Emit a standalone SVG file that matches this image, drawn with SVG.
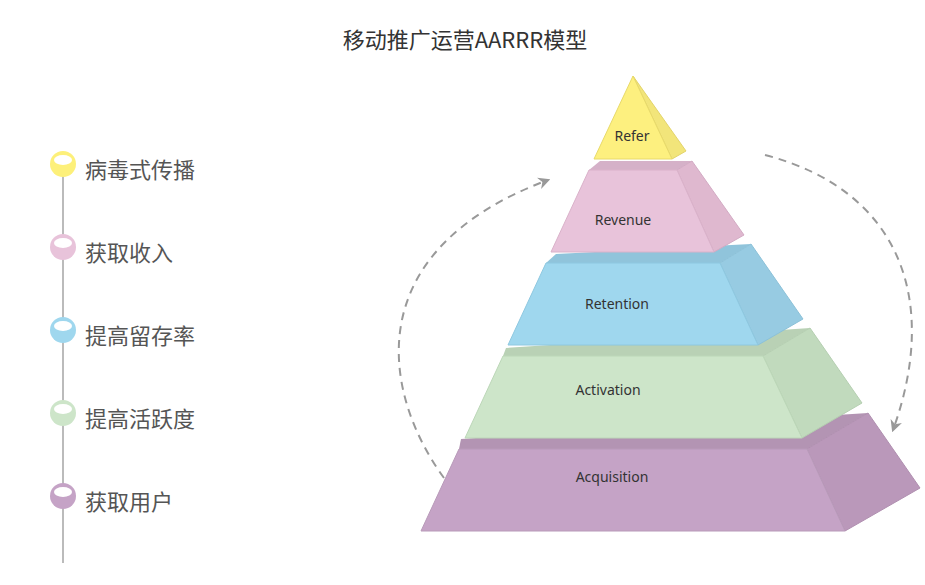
<svg xmlns="http://www.w3.org/2000/svg" width="925" height="585" viewBox="0 0 925 585">
<defs>
<style>
.t{font-family:"Microsoft YaHei","Noto Sans CJK SC","Liberation Sans",sans-serif;fill:#333}
.lbl{font-family:"Noto Sans","Liberation Sans",sans-serif;font-size:14px;fill:#333;text-anchor:middle}
.lt{font-family:"Noto Sans CJK SC",sans-serif;font-size:22px;fill:#555}
.dash{fill:none;stroke:#999;stroke-width:2;stroke-dasharray:8 6}
.hole{fill:#fff}
</style>
<marker id="ah" viewBox="0 0 10 10" refX="8" refY="5" markerWidth="6" markerHeight="6" orient="auto"><path d="M0,0 L10,5 L0,10 L3,5 Z" fill="#999"/></marker>
</defs>
<rect width="925" height="585" fill="#fff"/>
<text class="t" x="465" y="48" font-size="22" text-anchor="middle">移动推广运营AARRR模型</text>
<g id="timeline">
<line x1="63" y1="165" x2="63" y2="563" stroke="#bbb" stroke-width="2"/>
<g id="t1"><circle cx="63" cy="164" r="13" fill="#fdf07a"/><ellipse class="hole" cx="63" cy="160" rx="9" ry="5"/><text class="lt" x="85" y="178">病毒式传播</text></g>
<g id="t2"><circle cx="63" cy="247" r="13" fill="#e8c3da"/><ellipse class="hole" cx="63" cy="243" rx="9" ry="5"/><text class="lt" x="85" y="261">获取收入</text></g>
<g id="t3"><circle cx="63" cy="330" r="13" fill="#9fd7ee"/><ellipse class="hole" cx="63" cy="326" rx="9" ry="5"/><text class="lt" x="85" y="344">提高留存率</text></g>
<g id="t4"><circle cx="63" cy="413" r="13" fill="#cde5c9"/><ellipse class="hole" cx="63" cy="409" rx="9" ry="5"/><text class="lt" x="85" y="427">提高活跃度</text></g>
<g id="t5"><circle cx="63" cy="496" r="13" fill="#c5a3c6"/><ellipse class="hole" cx="63" cy="492" rx="9" ry="5"/><text class="lt" x="85" y="510">获取用户</text></g>
</g>
<g id="acquisition">
<polygon points="459,449 461,439 868,413 807,449" fill="#b394b3"/>
<polygon points="807,449 868,413 920,488 845,531" fill="#ba98ba" stroke="#b08fb0" stroke-width="1"/>
<polygon points="459,449 807,449 845,531 421,531" fill="#c5a3c6" stroke="#b89ab9" stroke-width="1"/>
<text class="lbl" x="612" y="482">Acquisition</text>
</g>
<g id="activation">
<polygon points="503,356 506,348 810,328 763,356" fill="#b9d1b5"/>
<polygon points="763,356 810,328 862,403 802,438" fill="#c1dabd" stroke="#b5cfb1" stroke-width="1"/>
<polygon points="503,356 763,356 802,438 465,438" fill="#cde5c9" stroke="#bcd7b8" stroke-width="1"/>
<text class="lbl" x="608" y="395">Activation</text>
</g>
<g id="retention">
<polygon points="546,263 556,254 751,244 720,263" fill="#90c4db"/>
<polygon points="720,263 751,244 803,319 758,345" fill="#97cbe2" stroke="#8cc1d8" stroke-width="1"/>
<polygon points="546,263 720,263 758,345 508,345" fill="#9fd7ee" stroke="#8ec8e0" stroke-width="1"/>
<text class="lbl" x="617" y="309">Retention</text>
</g>
<g id="revenue">
<polygon points="589,170 600,161 692,161 677,170" fill="#d5b1c8"/>
<polygon points="677,170 692,161 744,235 714,252" fill="#dfb8cf" stroke="#d3abc4" stroke-width="1"/>
<polygon points="589,170 677,170 714,252 551,252" fill="#e8c3da" stroke="#dab2ca" stroke-width="1"/>
<text class="lbl" x="623" y="225">Revenue</text>
</g>
<g id="refer">
<polygon points="633,76 672,159 686,151" fill="#f2e57a" stroke="#e3d46a" stroke-width="1"/>
<polygon points="633,76 672,159 594,159" fill="#fdf07f" stroke="#e8da6a" stroke-width="1"/>
<text class="lbl" x="632" y="141">Refer</text>
</g>
<g id="connectors">
<path class="dash" d="M444,478 C380,390 360,250 548,180" marker-end="url(#ah)"/>
<path class="dash" d="M765,155 C900,190 940,300 893,430" marker-end="url(#ah)"/>
</g>
</svg>
